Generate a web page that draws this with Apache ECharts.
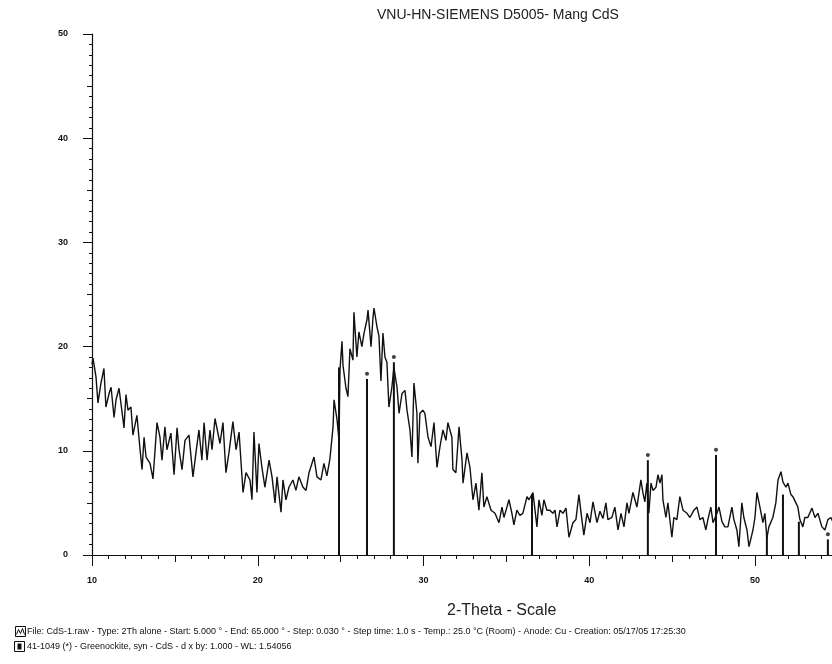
<!DOCTYPE html>
<html>
<head>
<meta charset="utf-8">
<script src="https://cdn.jsdelivr.net/npm/echarts@6/dist/echarts.min.js"></script>
<style>
  html, body { margin: 0; padding: 0; background: #fff; }
  #chart { width: 832px; height: 664px; }
</style>
</head>
<body>
<div id="chart"></div>
<script>
const theta = [
  10.00, 10.06, 10.24, 10.36, 10.54, 10.72, 10.84, 11.03, 11.15, 11.33, 11.45, 11.63, 11.87, 11.93,
  12.05, 12.17, 12.35, 12.47, 12.71, 12.90, 13.02, 13.14, 13.26, 13.50, 13.68, 13.92, 14.10, 14.22,
  14.40, 14.52, 14.76, 14.95, 15.13, 15.25, 15.43, 15.61, 15.85, 16.09, 16.27, 16.45, 16.63, 16.76,
  16.94, 17.12, 17.24, 17.42, 17.72, 17.90, 18.08, 18.26, 18.50, 18.69, 18.87, 19.11, 19.29, 19.53,
  19.65, 19.77, 19.95, 20.07, 20.25, 20.43, 20.68, 20.86, 21.04, 21.16, 21.40, 21.52, 21.70, 21.88,
  22.12, 22.30, 22.48, 22.73, 22.91, 23.09, 23.39, 23.57, 23.81, 23.99, 24.17, 24.35, 24.54, 24.60,
  24.78, 24.90, 24.96, 25.08, 25.14, 25.32, 25.44, 25.56, 25.74, 25.80, 25.98, 26.10, 26.28, 26.41,
  26.59, 26.65, 26.83, 26.95, 27.01, 27.19, 27.31, 27.43, 27.55, 27.67, 27.79, 27.91, 28.09, 28.21,
  28.40, 28.52, 28.70, 28.88, 29.00, 29.18, 29.30, 29.42, 29.60, 29.66, 29.78, 29.96, 30.08, 30.27,
  30.45, 30.63, 30.81, 30.99, 31.17, 31.35, 31.47, 31.71, 31.77, 31.95, 32.14, 32.32, 32.38, 32.62,
  32.80, 32.98, 33.16, 33.34, 33.52, 33.64, 33.82, 34.07, 34.31, 34.55, 34.73, 34.85, 35.03, 35.15,
  35.33, 35.45, 35.63, 35.81, 35.99, 36.24, 36.36, 36.60, 36.72, 36.84, 36.96, 37.14, 37.26, 37.44,
  37.62, 37.80, 37.93, 38.05, 38.23, 38.41, 38.59, 38.77, 39.01, 39.19, 39.37, 39.55, 39.67, 39.86,
  40.04, 40.22, 40.46, 40.64, 40.82, 41.00, 41.12, 41.36, 41.54, 41.73, 41.91, 42.09, 42.27, 42.39,
  42.63, 42.75, 42.87, 43.11, 43.23, 43.35, 43.47, 43.59, 43.72, 43.84, 44.02, 44.14, 44.26, 44.38,
  44.44, 44.62, 44.74, 44.98, 45.10, 45.28, 45.46, 45.65, 45.89, 46.07, 46.31, 46.49, 46.67, 46.85,
  47.03, 47.15, 47.33, 47.46, 47.70, 47.82, 48.00, 48.18, 48.36, 48.60, 48.72, 48.90, 49.02, 49.20,
  49.32, 49.51, 49.63, 49.87, 49.99, 50.11, 50.29, 50.47, 50.59, 50.71, 50.83, 51.07, 51.25, 51.38,
  51.56, 51.68, 51.86, 51.98, 52.16, 52.28, 52.46, 52.58, 52.70, 52.88, 53.00, 53.18, 53.43, 53.61,
  53.79, 54.03, 54.21, 54.39, 54.57, 54.75
];
const counts = [
  18.3, 18.9, 17.1, 14.6, 16.5, 17.9, 14.2, 15.5, 16.1, 13.2, 14.9, 16.0, 13.0, 12.2,
  15.4, 13.9, 14.2, 11.5, 13.4, 10.1, 8.2, 11.3, 9.4, 8.8, 7.3, 12.7, 11.3, 9.1,
  12.3, 10.1, 11.7, 7.7, 12.2, 10.1, 8.2, 11.0, 11.5, 7.5, 9.8, 12.0, 9.1, 12.7,
  9.1, 12.0, 10.1, 13.1, 10.7, 12.7, 7.9, 9.8, 12.8, 10.1, 11.8, 6.0, 7.9, 7.2,
  5.3, 11.8, 6.0, 10.7, 8.4, 6.5, 9.1, 7.5, 5.0, 7.5, 4.1, 7.2, 5.3, 6.5,
  7.2, 6.2, 7.5, 6.5, 6.2, 7.9, 9.4, 7.5, 7.2, 8.8, 7.6, 9.2, 12.3, 14.9,
  13.0, 11.0, 17.8, 20.5, 18.2, 16.0, 15.2, 19.8, 18.7, 23.3, 19.0, 21.4, 20.0, 21.3,
  22.6, 23.5, 20.0, 22.8, 23.7, 21.9, 21.0, 16.7, 21.3, 19.0, 18.5, 14.2, 16.1, 18.0,
  16.1, 13.6, 15.5, 15.8, 13.9, 12.0, 9.4, 16.5, 13.6, 8.8, 13.6, 13.9, 13.6, 11.3,
  10.4, 12.7, 8.4, 10.4, 12.0, 11.0, 12.7, 11.3, 8.2, 7.9, 12.3, 9.1, 6.9, 9.8,
  8.4, 5.3, 6.9, 4.3, 7.9, 4.6, 5.6, 4.3, 4.0, 3.1, 4.6, 3.6, 4.6, 5.3,
  4.0, 2.9, 4.3, 3.8, 4.0, 5.6, 5.3, 6.0, 6.0, 2.7, 5.3, 3.8, 5.3, 4.3,
  4.3, 4.0, 4.3, 2.7, 4.3, 4.0, 4.5, 1.7, 3.1, 3.4, 5.8, 3.4, 1.9, 4.0,
  3.1, 5.1, 3.1, 4.2, 3.5, 5.0, 3.4, 3.6, 4.6, 2.4, 4.0, 2.7, 5.0, 4.0,
  6.0, 5.3, 4.6, 7.2, 6.0, 5.1, 6.9, 4.0, 6.9, 6.2, 6.5, 7.7, 6.9, 7.7,
  5.3, 3.6, 5.0, 1.7, 3.6, 3.4, 5.6, 4.3, 4.0, 3.6, 4.3, 4.6, 3.4, 3.6,
  2.4, 3.4, 4.6, 3.1, 4.0, 4.6, 3.2, 2.7, 2.7, 4.6, 3.4, 2.4, 0.8, 5.0,
  3.6, 2.4, 0.8, 2.4, 3.6, 6.0, 4.6, 3.1, 4.0, 1.6, 2.7, 3.6, 5.0, 7.2,
  8.0, 7.0, 6.5, 6.9, 5.8, 5.6, 5.0, 4.6, 3.4, 2.7, 3.6, 3.6, 4.5, 3.6,
  4.0, 2.7, 2.4, 3.4, 3.6, 3.0
];

// reference pattern 41-1049 Greenockite sticks
const stickTheta = [24.90, 26.59, 28.21, 36.54, 43.53, 47.64, 50.71, 51.68, 52.64, 54.39];
const stickHeight = [18.0, 16.9, 18.5, 5.8, 9.1, 9.6, 2.0, 5.8, 3.2, 1.5];
const stickDot = [0, 1, 1, 0, 1, 1, 0, 0, 0, 1];

const xMin = 10, xMax = 55;
const yMin = 0, yMax = 50;

const titleText = 'VNU-HN-SIEMENS D5005- Mang CdS';
const xName = '2-Theta - Scale';
const fileLine = 'File: CdS-1.raw - Type: 2Th alone - Start: 5.000 \u00b0 - End: 65.000 \u00b0 - Step: 0.030 \u00b0 - Step time: 1.0 s - Temp.: 25.0 \u00b0C (Room) - Anode: Cu - Creation: 05/17/05 17:25:30';
const cardLine = '41-1049 (*) - Greenockite, syn - CdS - d x by: 1.000 - WL: 1.54056';

const ink = '#111';
const chart = echarts.init(document.getElementById('chart'));

const tickAxis = (interval, len, extra) => Object.assign({
  type: 'value',
  interval: interval,
  axisLine: { show: false },
  axisTick: { show: true, length: len, lineStyle: { color: ink, width: 1 } },
  axisLabel: { show: false },
  splitLine: { show: false }
}, extra);

chart.setOption({
  animation: false,
  backgroundColor: '#fff',
  title: {
    text: titleText,
    left: 372,
    top: 3,
    textStyle: { fontFamily: 'Liberation Sans', fontSize: 14, fontWeight: 'normal', color: '#222' }
  },
  // plot runs past the right edge of the page, like the cropped scan
  grid: { left: 92, top: 34, width: 746, height: 521, containLabel: false, outerBoundsMode: 'none' },
  xAxis: [
    tickAxis(1, 4, { min: xMin, max: xMax, position: 'bottom',
      axisLine: { show: true, onZero: false, lineStyle: { color: ink, width: 1.2 } } }),
    tickAxis(5, 7, { min: xMin, max: xMax, position: 'bottom' }),
    tickAxis(10, 11, { min: xMin, max: xMax, position: 'bottom',
      axisLabel: { show: true, margin: 21, fontSize: 9, fontWeight: 'bold', color: ink, fontFamily: 'Liberation Sans' } })
  ],
  yAxis: [
    tickAxis(1, 3, { min: yMin, max: yMax, position: 'left',
      axisLine: { show: true, onZero: false, lineStyle: { color: ink, width: 1.2 } } }),
    tickAxis(5, 5, { min: yMin, max: yMax, position: 'left' }),
    tickAxis(10, 9, { min: yMin, max: yMax, position: 'left',
      axisLabel: { show: true, margin: 24, fontSize: 9, fontWeight: 'bold', color: ink, fontFamily: 'Liberation Sans' } })
  ],
  series: [
    {
      type: 'bar',
      xAxisIndex: 0,
      yAxisIndex: 0,
      barWidth: 2,
      itemStyle: { color: ink },
      data: stickTheta.map((t, i) => [t, stickHeight[i]]),
      z: 2
    },
    {
      type: 'line',
      xAxisIndex: 0,
      yAxisIndex: 0,
      showSymbol: false,
      lineStyle: { color: ink, width: 1.4 },
      data: theta.map((t, i) => [t, counts[i]]),
      z: 3
    },
    {
      type: 'scatter',
      xAxisIndex: 0,
      yAxisIndex: 0,
      symbolSize: 4,
      itemStyle: { color: ink },
      data: stickTheta.map((t, i) => [t, stickHeight[i] + 0.5]).filter((d, i) => stickDot[i]),
      z: 4
    }
  ],
  graphic: [
    {
      type: 'text', left: 447, top: 603,
      style: { text: xName, font: '16px "Liberation Sans"', fill: '#222' }
    },
    {
      type: 'group', left: 14, top: 626,
      children: [
        { type: 'rect', shape: { x: 0, y: 0, width: 10, height: 10 }, style: { fill: '#fff', stroke: ink, lineWidth: 1 } },
        { type: 'polyline', shape: { points: [[1, 8], [3, 3], [5, 7], [7, 2], [9, 8]] }, style: { stroke: ink, fill: 'none', lineWidth: 1 } }
      ]
    },
    {
      type: 'text', left: 27, top: 627,
      style: { text: fileLine, font: '9px "Liberation Sans"', fill: ink }
    },
    {
      type: 'group', left: 14, top: 641,
      children: [
        { type: 'rect', shape: { x: 0, y: 0, width: 10, height: 10 }, style: { fill: '#fff', stroke: ink, lineWidth: 1 } },
        { type: 'rect', shape: { x: 3, y: 2, width: 4, height: 6 }, style: { fill: ink } }
      ]
    },
    {
      type: 'text', left: 27, top: 642,
      style: { text: cardLine, font: '9px "Liberation Sans"', fill: ink }
    }
  ]
});
</script>
</body>
</html>
